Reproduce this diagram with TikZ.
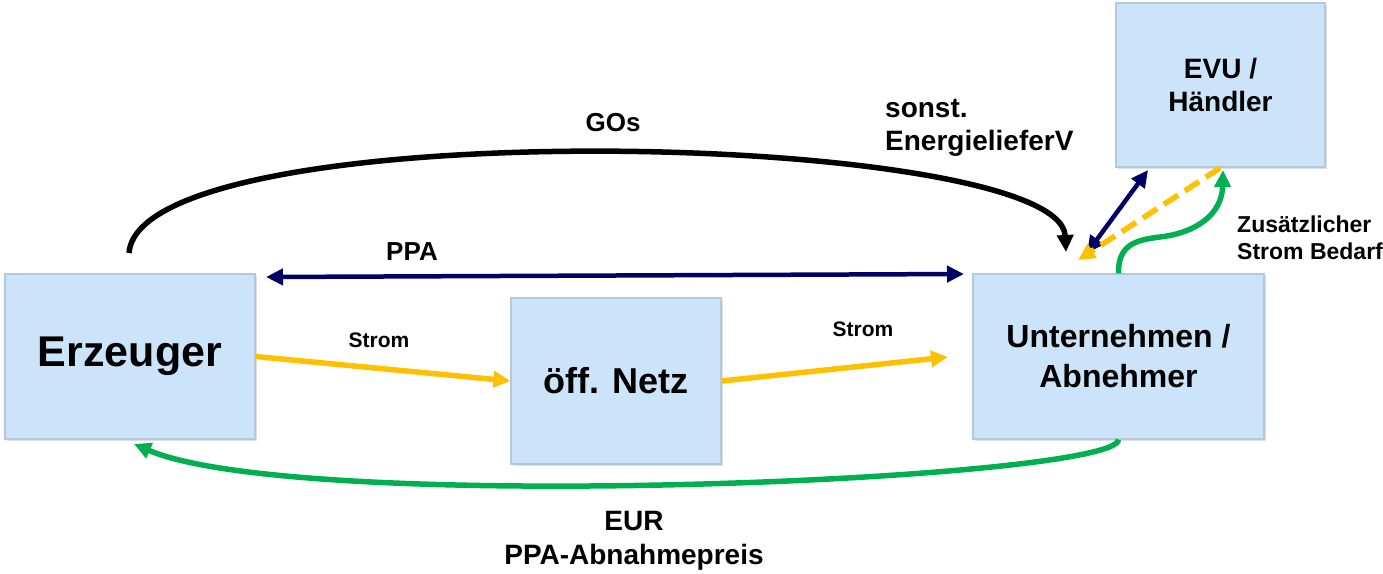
\documentclass[tikz,border=0pt]{standalone}
\usepackage{fontspec}
\setmainfont{Liberation Sans}
\usetikzlibrary{arrows.meta,calc,shadows}
\definecolor{boxfill}{HTML}{CCE4FA}
\definecolor{boxline}{HTML}{B4C7DC}
\definecolor{navy}{HTML}{000066}
\definecolor{amber}{HTML}{FFC000}
\definecolor{grn}{HTML}{00B050}
\tikzset{
  entity/.style={rectangle, fill=boxfill, draw=boxline, line width=1.2pt, inner sep=0pt,
    align=center, font=\bfseries,
    drop shadow={shadow xshift=1.5pt, shadow yshift=-1.5pt, opacity=0.25}},
  lbl/.style={font=\bfseries, inner sep=0pt, align=center},
  tip/.style={-{Triangle[length=17pt,width=16pt]}},
  dtip/.style={{Triangle[length=17pt,width=16pt]}-{Triangle[length=17pt,width=16pt]}},
  goslink/.style={tip, draw=black, line width=5.5pt},
  ppalink/.style={dtip, draw=navy, line width=4.5pt},
  stromlink/.style={tip, draw=amber, line width=5.5pt},
  eurlink/.style={tip, draw=grn, line width=5.5pt},
  dashlink/.style={tip, draw=amber, line width=5.5pt, dash pattern=on 17pt off 8pt}
}
\begin{document}
\begin{tikzpicture}[x=1pt,y=-1pt]
\useasboundingbox (0,0) rectangle (1383,573);

% boxes
\node[entity, minimum width=250pt, minimum height=165pt, font=\bfseries\fontsize{43}{50}\selectfont] (erz) at (130,356.5) {Erzeuger};
\node[entity, minimum width=210pt, minimum height=166pt, font=\bfseries\fontsize{36}{42}\selectfont] (netz) at (616,381) {öff. Netz};
\node[entity, minimum width=291pt, minimum height=165pt, font=\bfseries\fontsize{32}{40}\selectfont] (unt) at (1118.5,356.5) {Unternehmen /\\Abnehmer};
\node[entity, minimum width=209pt, minimum height=164pt, font=\bfseries\fontsize{28}{33}\selectfont] (evu) at (1220.5,85) {EVU /\\Händler};

% free ends
\coordinate (gosS) at (129,253);
\coordinate (gosE) at (1066,252);
\coordinate (ppaL) at (266,277);
\coordinate (ppaR) at (964,274);
\coordinate (str2E) at (948,357);
\coordinate (eurE) at (134,444);
\coordinate (evuA) at (1148,170);
\coordinate (untA) at (1087,253);
\coordinate (evuD) at (1220,168);
\coordinate (untD) at (1078,260);
\coordinate (grnMid) at (1160,237);
\coordinate (evuG) at (1223,170);

% connectors
\draw[goslink] (gosS) .. controls (140,110) and (1060,130) .. (gosE);
\draw[ppalink] (ppaL) -- (ppaR);
\draw[stromlink] (erz.east) -- (netz.west);
\draw[stromlink] (netz.east) -- (str2E);
\draw[eurlink] (unt.south) .. controls (1117,480) and (300,515) .. (eurE);
\draw[ppalink] (untA) -- (evuA);
\draw[dashlink] (evuD) -- (untD);
\draw[eurlink] (unt.north) .. controls (1118,245) and (1135,240) .. (grnMid)
   .. controls (1195,233) and (1222,215) .. (evuG);

% labels
\node[lbl, font=\bfseries\fontsize{26}{33}\selectfont] (gos) at (613,123) {GOs};
\node[lbl, font=\bfseries\fontsize{28}{33}\selectfont, anchor=west, align=left] (sonst) at (885,128) {sonst.\\EnergielieferV};
\node[lbl, font=\bfseries\fontsize{26}{33}\selectfont] (ppa) at (412,252) {PPA};
\node[lbl, font=\bfseries\fontsize{21}{26}\selectfont] (strom1) at (379,340) {Strom};
\node[lbl, font=\bfseries\fontsize{21}{26}\selectfont] (strom2) at (863,329) {Strom};
\node[lbl, font=\bfseries\fontsize{23}{27}\selectfont, anchor=west, align=left] (zus) at (1237,238) {Zusätzlicher\\Strom Bedarf};
\node[lbl, font=\bfseries\fontsize{28}{34}\selectfont] (eur) at (634,541) {EUR\\PPA-Abnahmepreis};
\end{tikzpicture}
\end{document}
